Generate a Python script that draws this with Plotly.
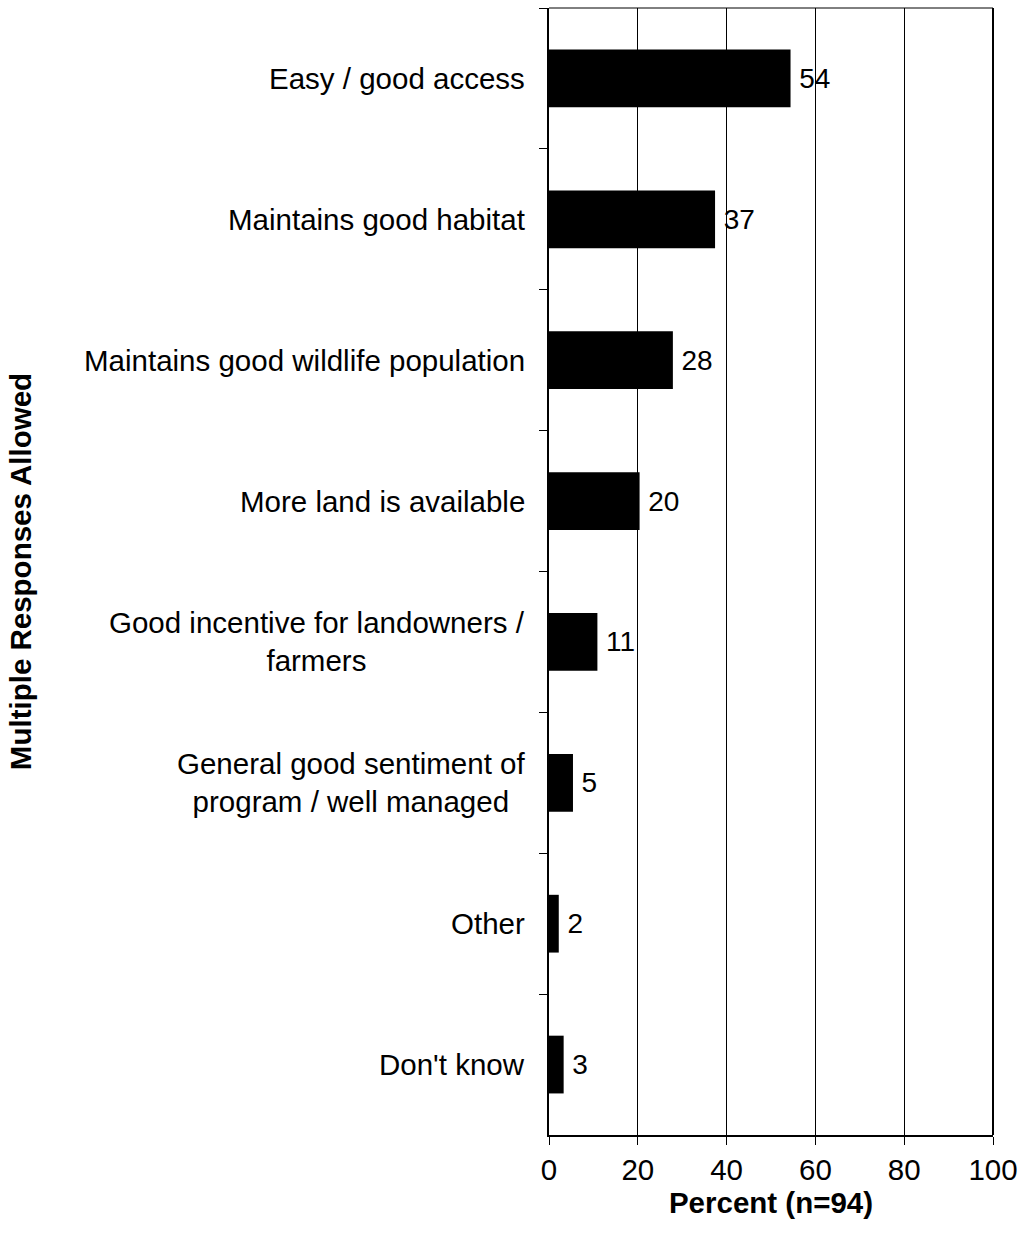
import plotly.graph_objects as go

categories = [
    "Easy / good access",
    "Maintains good habitat",
    "Maintains good wildlife population",
    "More land is available",
    "Good incentive for landowners /<br>farmers",
    "General good sentiment of<br>program / well managed",
    "Other",
    "Don't know",
]
bar_values = [54.4, 37.4, 27.9, 20.4, 10.9, 5.4, 2.2, 3.3]
label_values = ["54", "37", "28", "20", "11", "5", "2", "3"]
x_ticks = [0, 20, 40, 60, 80, 100]

FONT = "Arial, Liberation Sans, sans-serif"
FS = 29.5

fig = go.Figure(go.Bar(
    y=categories,
    x=bar_values,
    orientation="h",
    marker=dict(color="black", line=dict(width=0)),
    text=["\u2009" + v for v in label_values],
    textposition="outside",
    textfont=dict(family=FONT, size=28, color="black"),
    cliponaxis=False,
))

for c in categories:
    fig.add_annotation(
        x=0, xref="paper", y=c, yref="y",
        text=c, showarrow=False, xanchor="right", yanchor="middle",
        xshift=-22, align="center",
        font=dict(family=FONT, size=FS, color="black"),
    )

fig.add_annotation(
    x=-1.19, xref="paper", y=0.5, yref="paper",
    text="<b>Multiple Responses Allowed</b>", textangle=-90,
    showarrow=False, xanchor="center", yanchor="middle",
    font=dict(family=FONT, size=FS, color="black"),
)

# top and right frame
fig.add_shape(type="line", xref="paper", yref="paper", x0=0, x1=1, y0=1, y1=1,
              line=dict(color="black", width=1))
fig.add_shape(type="line", xref="paper", yref="paper", x0=1, x1=1, y0=0, y1=1,
              line=dict(color="black", width=2))

fig.update_layout(
    width=1026, height=1245,
    margin=dict(l=549, r=29, t=8, b=110),
    paper_bgcolor="white", plot_bgcolor="white",
    bargap=0.59,
    showlegend=False,
    font=dict(family=FONT, color="black"),
    xaxis=dict(
        range=[0, 100], tickvals=x_ticks,
        showgrid=True, gridcolor="black", gridwidth=1,
        showline=True, linecolor="black", linewidth=2,
        ticks="outside", ticklen=8, tickcolor="black", tickwidth=1,
        tickfont=dict(family=FONT, size=FS, color="black"),
        title=dict(text="<b>Percent (n=94)</b>", font=dict(family=FONT, size=FS, color="black"), standoff=4),
        zeroline=False, fixedrange=True,
    ),
    yaxis=dict(
        categoryorder="array", categoryarray=categories,
        autorange="reversed",
        showticklabels=False,
        showline=True, linecolor="black", linewidth=2,
        ticks="outside", ticklen=8, tickcolor="black", tickwidth=1,
        tickson="boundaries", showgrid=False, fixedrange=True,
    ),
)

fig.write_html("out.html", config={"displayModeBar": False},
               post_script="document.body.style.margin='0';")
